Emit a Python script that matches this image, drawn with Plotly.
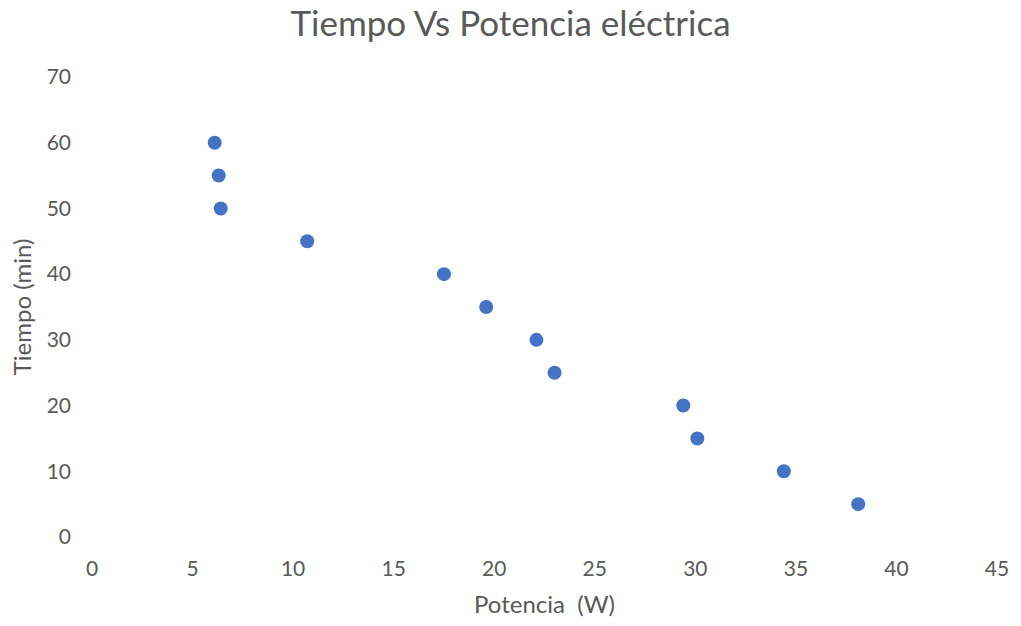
import plotly.graph_objects as go

# Measured power (W) and elapsed time (min)
potencia = [6.1, 6.3, 6.4, 10.7, 17.5, 19.6, 22.1, 23.0, 29.4, 30.1, 34.4, 38.1]
tiempo = [60, 55, 50, 45, 40, 35, 30, 25, 20, 15, 10, 5]

x_ticks = [0, 5, 10, 15, 20, 25, 30, 35, 40, 45]
y_ticks = [0, 10, 20, 30, 40, 50, 60, 70]

font_family = "Lato, 'Open Sans', sans-serif"
grey = "#595959"

fig = go.Figure(
    go.Scatter(
        x=potencia,
        y=tiempo,
        mode="markers",
        marker=dict(size=14, color="#4472C4", line=dict(width=0)),
        showlegend=False,
    )
)

fig.update_layout(
    width=1021,
    height=626,
    margin=dict(l=92, r=21, t=77, b=89),
    paper_bgcolor="white",
    plot_bgcolor="white",
    font=dict(family=font_family, color=grey),
    title=dict(
        text="Tiempo Vs Potencia eléctrica",
        x=0.5,
        xanchor="center",
        y=0.962,
        yanchor="middle",
        font=dict(size=35, color=grey, family=font_family),
    ),
)

fig.update_xaxes(
    range=[0, 45],
    tickvals=x_ticks,
    showgrid=False,
    zeroline=False,
    showline=False,
    ticks="",
    ticklabelstandoff=17,
    tickfont=dict(size=21, color=grey),
    title=dict(text="Potencia  (W)", font=dict(size=24, color=grey), standoff=17),
)

fig.update_yaxes(
    range=[0, 70],
    tickvals=y_ticks,
    showgrid=False,
    zeroline=False,
    showline=False,
    ticks="",
    ticklabelstandoff=20,
    tickfont=dict(size=21, color=grey),
    title=dict(text="Tiempo (min)", font=dict(size=24, color=grey), standoff=8),
)

fig.write_html("out.html")
